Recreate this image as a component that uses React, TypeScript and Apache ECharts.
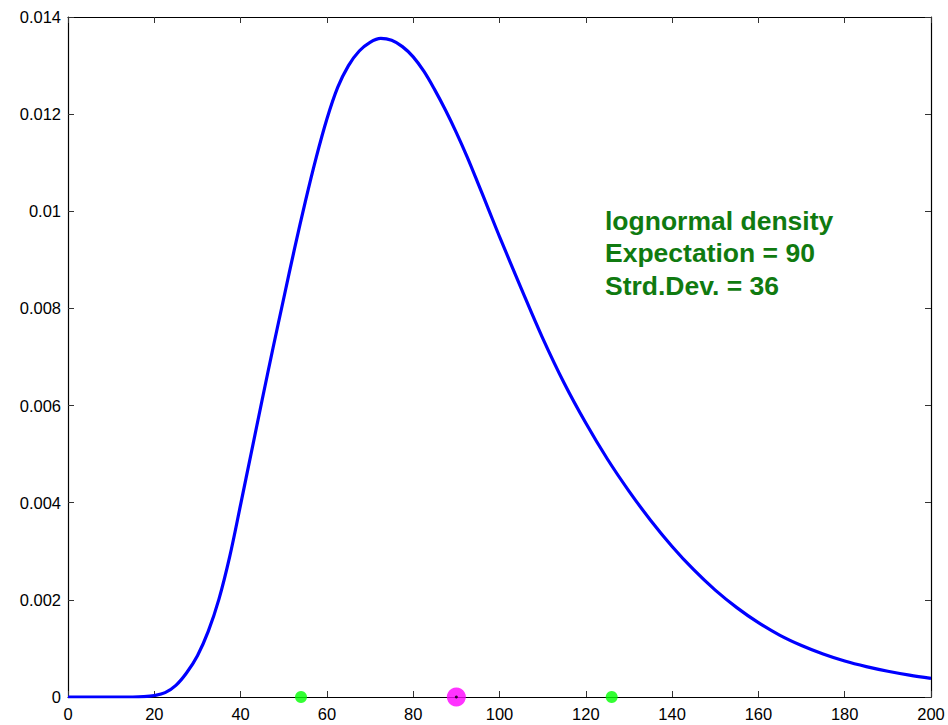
import React, { useEffect, useRef } from "react";
import * as echarts from "echarts";

// x positions (sample points)
const xs = [0, 5, 10, 15, 17.5, 20, 22.5, 25, 27.5, 30, 32.5, 35, 37.5, 40, 42.5, 45, 47.5, 50, 52.5, 55, 57.5, 60, 62.5, 65, 67.5, 70, 72.5, 75, 77.5, 80, 82.5, 85, 87.5, 90, 92.5, 95, 97.5, 100, 105, 110, 115, 120, 125, 130, 135, 140, 145, 150, 155, 160, 165, 170, 175, 180, 185, 190, 195, 200];
// density values
const density = [0, 0, 0, 0, 0.000006, 0.00003, 0.00009, 0.00024, 0.0005, 0.00085, 0.00135, 0.00202, 0.0029, 0.00396, 0.00504, 0.00612, 0.00718, 0.00821, 0.00923, 0.0102, 0.0111, 0.0119, 0.01255, 0.013, 0.0133, 0.01348, 0.01356, 0.01352, 0.01339, 0.01318, 0.01288, 0.0125, 0.01208, 0.01162, 0.01112, 0.01058, 0.01003, 0.00948, 0.00842, 0.00739, 0.00646, 0.00564, 0.0049, 0.00424, 0.00364, 0.0031, 0.00262, 0.0022, 0.00184, 0.00153, 0.00127, 0.00106, 0.000885, 0.00074, 0.000625, 0.00053, 0.00045, 0.000385];
// markers on the x axis
const sigmaPoints = [54, 126];
const meanPoints = [90];
const infoLines = ["lognormal density", "Expectation = 90", "Strd.Dev. = 36"];

export default function App() {
  const ref = useRef<HTMLDivElement>(null);
  useEffect(() => {
    if (!ref.current) return;
    const chart = echarts.init(ref.current, null, { renderer: "svg" });
    const labelFont = { fontFamily: "Liberation Sans, Arial, sans-serif", fontSize: 16.5, color: "#000" };
    const tick = { show: true, inside: true, length: 6, lineStyle: { color: "#333", width: 1 } };
    const axLine = { show: true, onZero: false, lineStyle: { color: "#000", width: 1.2 } };
    chart.setOption({
      animation: false,
      backgroundColor: "#fff",
      grid: { left: 68, right: 17, top: 17, bottom: 28, show: false },
      xAxis: [
        {
          type: "value", min: 0, max: 200, interval: 20, position: "bottom",
          axisLine: axLine, axisTick: tick, splitLine: { show: false },
          axisLabel: { ...labelFont, margin: 8 },
        },
        {
          type: "value", min: 0, max: 200, interval: 20, position: "top",
          axisLine: axLine, axisTick: tick, splitLine: { show: false },
          axisLabel: { show: false },
        },
      ],
      yAxis: [
        {
          type: "value", min: 0, max: 0.014, interval: 0.002, position: "left",
          axisLine: axLine, axisTick: tick, splitLine: { show: false },
          axisLabel: { ...labelFont, margin: 7, formatter: (v: number) => String(parseFloat(v.toFixed(4))) },
        },
        {
          type: "value", min: 0, max: 0.014, interval: 0.002, position: "right",
          axisLine: axLine, axisTick: tick, splitLine: { show: false },
          axisLabel: { show: false },
        },
      ],
      series: [
        {
          type: "line",
          data: xs.map((x, i) => [x, density[i]]),
          smooth: 0.35,
          symbol: "none",
          lineStyle: { color: "#0000ff", width: 3.2 },
          z: 3,
        },
        {
          type: "scatter",
          data: sigmaPoints.map((x) => [x, 0]),
          symbol: "circle",
          symbolSize: 12,
          itemStyle: { color: "#00ff00" },
          clip: false,
          z: 5,
        },
        {
          type: "scatter",
          data: meanPoints.map((x) => [x, 0]),
          symbol: "circle",
          symbolSize: 19,
          itemStyle: { color: "#ff00ff" },
          clip: false,
          z: 5,
        },
        {
          type: "scatter",
          data: meanPoints.map((x) => [x, 0]),
          symbol: "circle",
          symbolSize: 3,
          itemStyle: { color: "#000" },
          clip: false,
          z: 6,
        },
      ],
      graphic: infoLines.map((t, i) => ({
        type: "text",
        left: 605,
        top: 207 + i * 32.7,
        style: {
          text: t,
          fill: "#107a10",
          font: "bold 26.5px Liberation Sans, Arial, sans-serif",
        },
        z: 10,
      })),
    });
    return () => chart.dispose();
  }, []);
  return <div ref={ref} style={{ width: 948, height: 725, position: "absolute", left: 0, top: 0 }} />;
}
